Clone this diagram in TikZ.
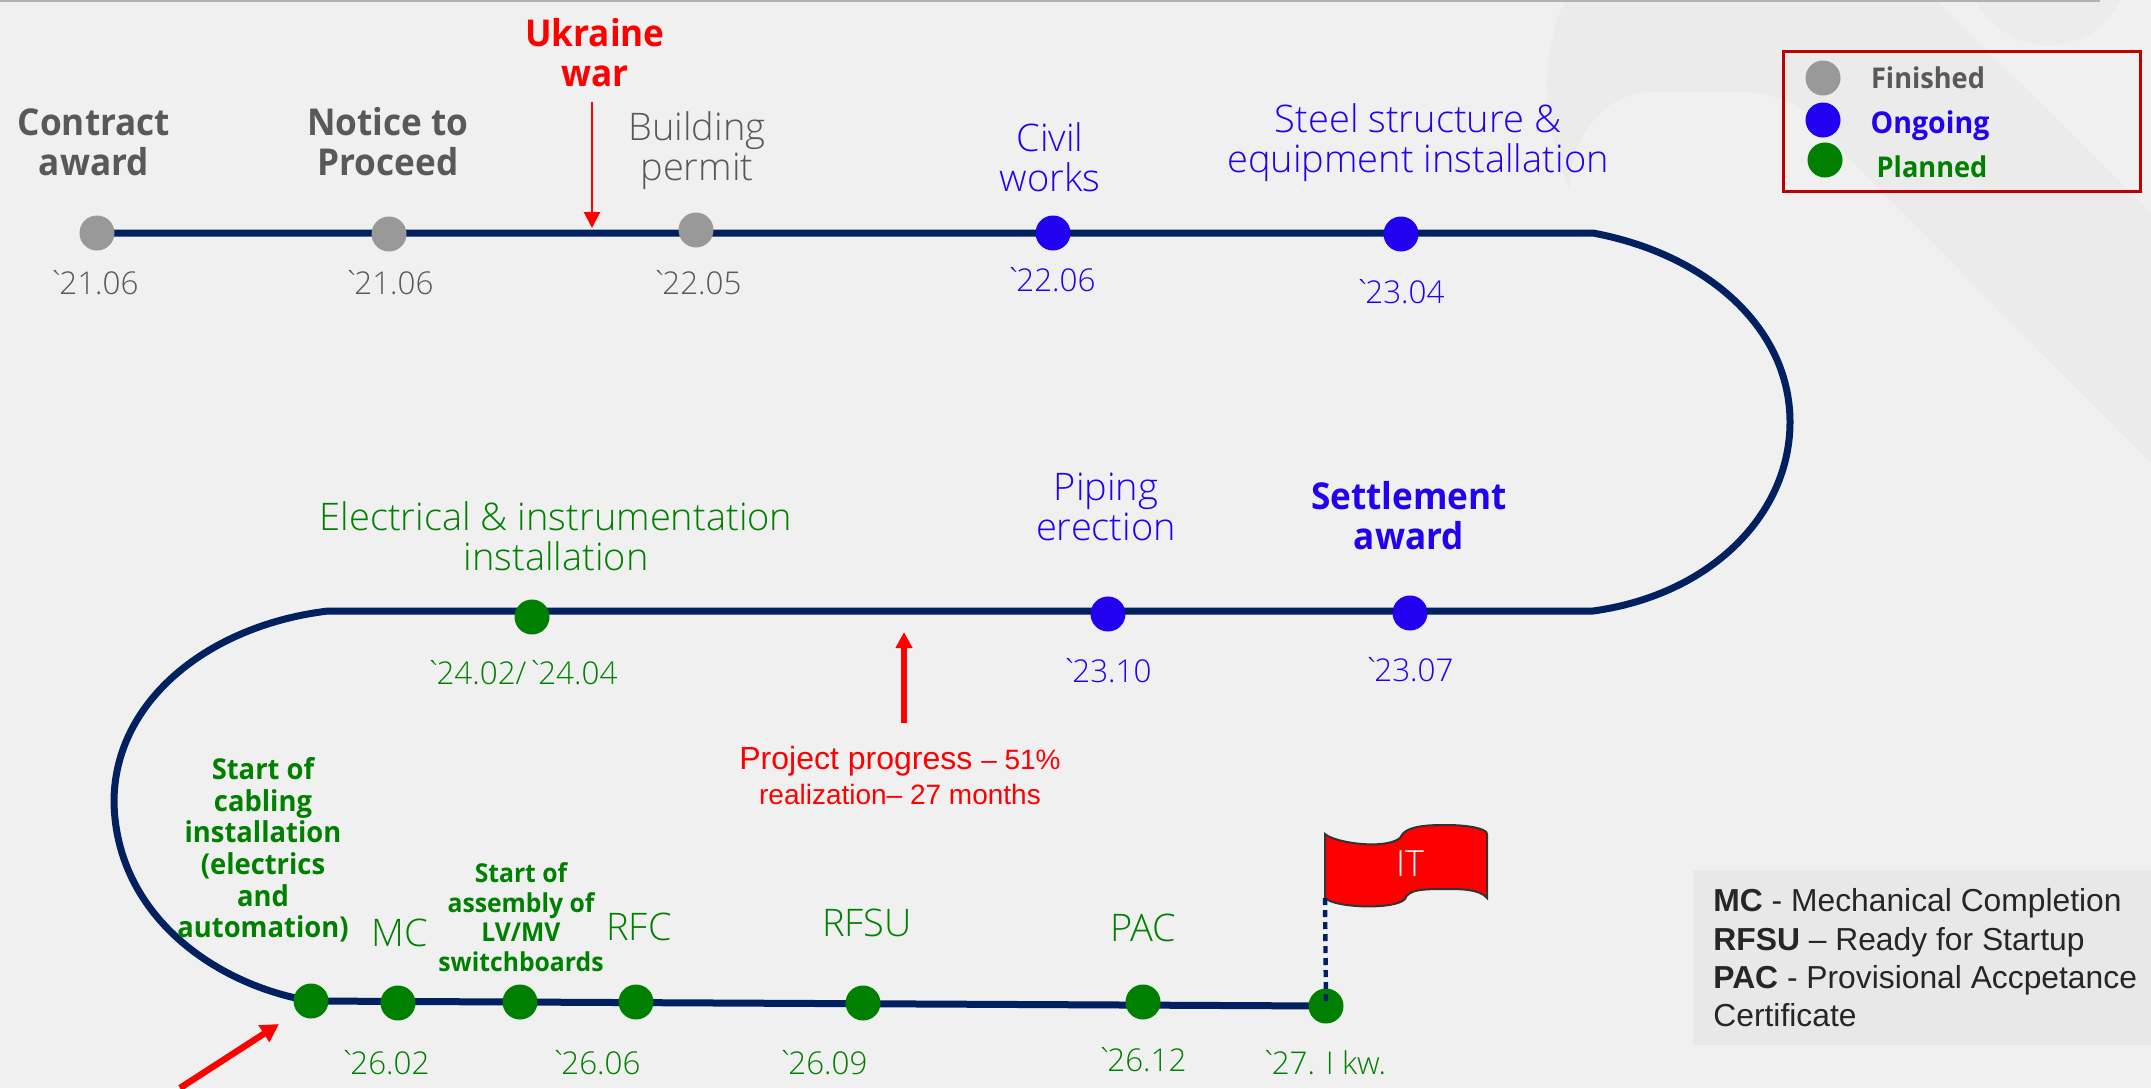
\documentclass[tikz,border=0pt]{standalone}
\usepackage{fontspec}
\setmainfont{Open Sans Light}[BoldFont={Open Sans Bold},BoldFeatures={FakeStretch=0.95}]
\newfontfamily\datef{Open Sans Light}
\newfontfamily\arialf{Liberation Sans}
\usetikzlibrary{arrows.meta,backgrounds}
\definecolor{navyl}{HTML}{002060}
\definecolor{gr}{HTML}{595959}
\definecolor{dgray}{HTML}{999999}
\definecolor{bl}{HTML}{2200F0}
\definecolor{gn}{HTML}{008000}
\definecolor{rd}{HTML}{FF0000}
\newcommand{\fs}[2]{\fontsize{#1}{#2}\selectfont}
\newcommand{\gv}{`\kern-0.2em}
\tikzset{
 x=0.5pt,y=-0.5pt,
 dotn/.style={circle,inner sep=0pt,minimum size=17.5pt,draw=none},
 dotg/.style={dotn,fill=dgray},
 dotb/.style={dotn,fill=bl},
 dotp/.style={dotn,fill=gn},
 lab/.style={align=center,inner sep=0pt,font=\fs{19}{20}},
 labb/.style={lab,font=\fs{18.5}{20}\bfseries},
 date/.style={inner sep=0pt,font=\datef\fs{15.7}{18}},
 small/.style={align=center,inner sep=0pt,font=\fs{14.4}{15.8}\bfseries,text=gn},
 smaller/.style={align=center,inner sep=0pt,font=\fs{13}{14.8}\bfseries,text=gn},
 leg/.style={inner sep=0pt,font=\fs{14.3}{16}\bfseries},
 track/.style={draw=navyl,line width=3.5pt},
}
\begin{document}
\begin{tikzpicture}
\useasboundingbox (0,0) rectangle (2151,1088);
% milestones
\node[dotg] (c1) at (97,233) {};
\node[dotg] (c2) at (389,234) {};
\node[dotg] (c3) at (696,230) {};
\node[dotb] (c4) at (1053,233) {};
\node[dotb] (c5) at (1401,234) {};
\node[dotb] (m1) at (1410,613) {};
\node[dotb] (m2) at (1108,614) {};
\node[dotp] (m3) at (532,617) {};
\node[dotp] (b1) at (311,1001) {};
\node[dotp] (b2) at (398,1003) {};
\node[dotp] (b3) at (520,1002) {};
\node[dotp] (b4) at (636,1002) {};
\node[dotp] (b5) at (863,1003) {};
\node[dotp] (b6) at (1143,1002) {};
\node[dotp] (b7) at (1326,1006) {};
\coordinate (t1) at (1593,233);
\coordinate (tr) at (1790,422);
\coordinate (t2) at (1593,611);
\coordinate (t3) at (328,611);
\coordinate (tl) at (114,802);
\begin{scope}[on background layer]
 \fill[fill=black!6] (0,0) rectangle (2151,1088);
 \fill[fill=black!8] (1566,0) .. controls (1545,40) and (1535,110) .. (1570,190)
   .. controls (1570,130) and (1610,92) .. (1650,92)
   -- (1740,92) .. controls (1790,92) and (1815,115) .. (1840,150)
   -- (2151,463) -- (2151,213) -- (1936,0) -- cycle;
 \fill[fill=black!7.5] (1975,0) .. controls (1990,30) and (2020,45) .. (2048,45)
   .. controls (2080,45) and (2105,30) .. (2120,0) -- cycle;
 \fill[fill=black!30] (0,0) rectangle (2100,2);
 \draw[track] (c1.center) -- (t1) .. controls (1710,255) and (1790,330) .. (tr)
   .. controls (1790,515) and (1710,595) .. (t2) -- (t3)
   .. controls (210,625) and (114,700) .. (tl)
   .. controls (116,915) and (215,985) .. (b1.center) -- (b7.center);
\end{scope}
% flag
\coordinate (flagfoot) at (1325,898);
\fill[rd,draw=black!80,line width=1pt] (1325,834) .. controls (1335,843) and (1385,850) .. (1400,838)
  .. controls (1405,825) and (1430,825) .. (1447,825)
  .. controls (1465,825) and (1487,828) .. (1487,834)
  -- (1487,898) .. controls (1480,889) and (1460,889) .. (1447,889)
  .. controls (1425,889) and (1408,889) .. (1405,899)
  .. controls (1395,910) and (1335,908) .. (1325,898) -- cycle;
\node[inner sep=0pt,text=white,font=\fs{18}{20}] (itl) at (1410,864) {IT};
\draw[navyl,line width=2.2pt,dash pattern=on 3.5pt off 2.5pt] (flagfoot) -- (b7.center);
% labels
\node[labb,text=gr] (l1) at (94,142) {Contract\\award};
\node[labb,text=gr] (l2) at (388,142) {Notice to\\Proceed};
\node[lab,text=gr] (l3) at (697,151) {Building\\permit};
\node[labb,text=rd] (uk) at (595,53) {Ukraine\\war};
\node[lab,text=bl] (l4) at (1050,157) {Civil\\works};
\node[lab,text=bl] (l5) at (1418,143) {Steel structure \&\\equipment installation};
\node[labb,text=bl] (l6) at (1409,516) {Settlement\\award};
\node[lab,text=bl] (l7) at (1106,507) {Piping\\erection};
\node[lab,text=gn] (l8) at (556,536) {Electrical \& instrumentation\\installation};
\node[small] (l9) at (263,850) {Start of\\cabling\\installation\\(electrics\\and\\automation)};
\node[smaller] (l10) at (521,917) {Start of\\assembly of\\LV/MV\\switchboards};
\node[lab,text=gn] (l11) at (400,933) {MC};
\node[lab,text=gn] (l12) at (639,927) {RFC};
\node[lab,text=gn] (l13) at (867,923) {RFSU};
\node[lab,text=gn] (l14) at (1143,928) {PAC};
% dates
\node[date,text=gr] (d1) at (93,283) {\gv21.06};
\node[date,text=gr] (d2) at (388,283) {\gv21.06};
\node[date,text=gr] (d3) at (696,283) {\gv22.05};
\node[date,text=bl] (d4) at (1050,280) {\gv22.06};
\node[date,text=bl] (d5) at (1399,292) {\gv23.04};
\node[date,text=bl] (d6) at (1408,670) {\gv23.07};
\node[date,text=bl] (d7) at (1106,671) {\gv23.10};
\node[date,text=gn] (d8) at (521,673) {\gv24.02/\gv24.04};
\node[date,text=gn] (d9) at (384,1063) {\gv26.02};
\node[date,text=gn] (d10) at (595,1063) {\gv26.06};
\node[date,text=gn] (d11) at (822,1063) {\gv26.09};
\node[date,text=gn] (d12) at (1141,1060) {\gv26.12};
\node[date,text=gn] (d13) at (1323,1063) {\gv27. I kw.};
% red arrows and progress
\coordinate (ua0) at (592,102);
\coordinate (ua1) at (592,228);
\draw[rd,line width=1.4pt,-{Triangle[length=8pt,width=8pt]}] (ua0) -- (ua1);
\coordinate (pa0) at (904,723);
\coordinate (pa1) at (904,632);
\draw[rd,line width=3pt,-{Triangle[length=8pt,width=8pt]}] (pa0) -- (pa1);
\coordinate (sa0) at (180,1088);
\coordinate (sa1) at (279,1024);
\draw[rd,line width=3.2pt,-{Triangle[length=9pt,width=9.5pt]}] (sa0) -- (sa1);
\node[inner sep=0pt,text=rd,font=\arialf\fs{16}{18}] (p1) at (900,761) {Project progress {\fs{14}{16}– 51\%}};
\node[inner sep=0pt,text=rd,font=\arialf\fs{14}{16}] (p2) at (900,794) {realization– 27 months};
% glossary
\node[anchor=north west,fill=black!9,minimum width=229pt,minimum height=87.5pt,inner sep=0pt] (gbox) at (1693,870) {};
\node[anchor=west,inner sep=0pt,align=left,text=black!85,font=\arialf\fs{15.9}{19.2}] (gtxt) at (1713,958)
  {\textbf{MC} - Mechanical Completion\\\textbf{RFSU} – Ready for Startup\\\textbf{PAC} - Provisional Accpetance\\Certificate};
% legend
\node[draw=rd!75!black,line width=1.3pt,anchor=north west,minimum width=178.5pt,minimum height=70pt,inner sep=0pt] (legbox) at (1782,50) {};
\node[dotg] (k1) at (1823,78) {};
\node[dotb] (k2) at (1823,120) {};
\node[dotp] (k3) at (1825,160) {};
\node[leg,text=gr] (kt1) at (1928,78) {Finished};
\node[leg,text=bl,font=\fs{15}{16}\bfseries] (kt2) at (1930,126) {Ongoing};
\node[leg,text=gn] (kt3) at (1932,167) {Planned};
\end{tikzpicture}
\end{document}
